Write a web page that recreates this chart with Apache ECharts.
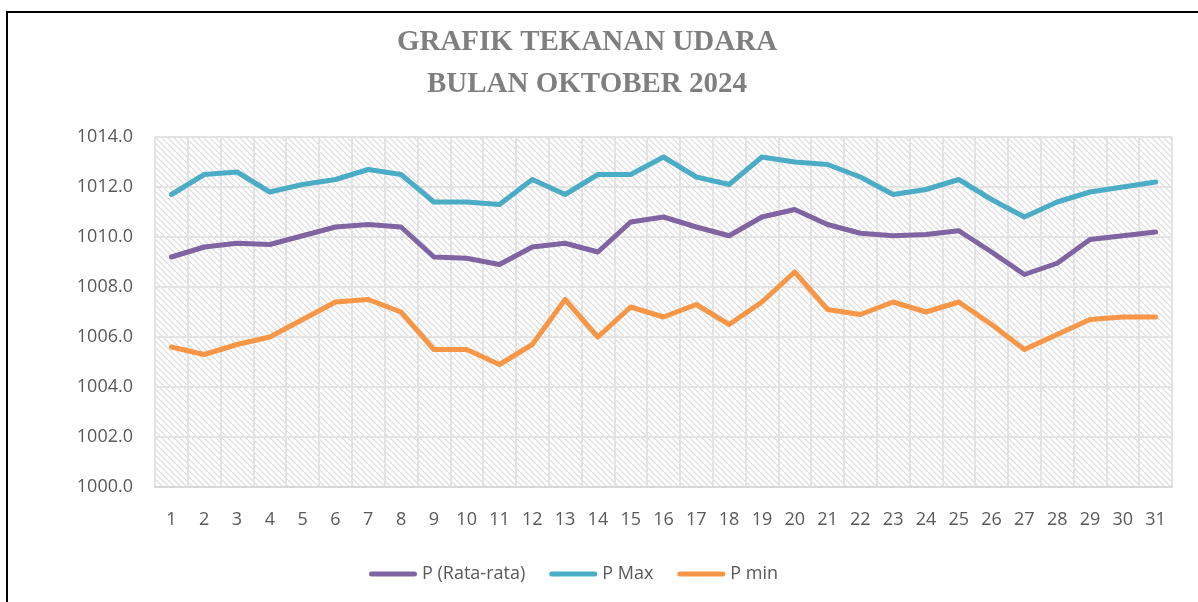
<!DOCTYPE html>
<html>
<head>
<meta charset="utf-8">
<script src="https://cdn.jsdelivr.net/npm/echarts@6/dist/echarts.min.js"></script>
<style>
  html, body { margin: 0; padding: 0; background: #fff; }
  #chart { width: 1198px; height: 602px; }
</style>
</head>
<body>
<div id="chart"></div>
<script>
// data
const days = Array.from({ length: 31 }, (_, i) => String(i + 1))
const pRata = [1009.2, 1009.6, 1009.75, 1009.7, 1010.05, 1010.4, 1010.5, 1010.4, 1009.2, 1009.15,
  1008.9, 1009.6, 1009.75, 1009.4, 1010.6, 1010.8, 1010.4, 1010.05, 1010.8, 1011.1,
  1010.5, 1010.15, 1010.05, 1010.1, 1010.25, 1009.4, 1008.5, 1008.95, 1009.9, 1010.05, 1010.2]
const pMax = [1011.7, 1012.5, 1012.6, 1011.8, 1012.1, 1012.3, 1012.7, 1012.5, 1011.4, 1011.4,
  1011.3, 1012.3, 1011.7, 1012.5, 1012.5, 1013.2, 1012.4, 1012.1, 1013.2, 1013.0,
  1012.9, 1012.4, 1011.7, 1011.9, 1012.3, 1011.5, 1010.8, 1011.4, 1011.8, 1012.0, 1012.2]
const pMin = [1005.6, 1005.3, 1005.7, 1006.0, 1006.7, 1007.4, 1007.5, 1007.0, 1005.5, 1005.5,
  1004.9, 1005.7, 1007.5, 1006.0, 1007.2, 1006.8, 1007.3, 1006.5, 1007.4, 1008.6,
  1007.1, 1006.9, 1007.4, 1007.0, 1007.4, 1006.5, 1005.5, 1006.1, 1006.7, 1006.8, 1006.8]

const seriesNames = ['P (Rata-rata)', 'P Max', 'P min']
const colors = ['#8064a2', '#4bacc6', '#f79646']

// hatched plot background
const hatch = document.createElement('canvas')
hatch.width = 6
hatch.height = 6
const hctx = hatch.getContext('2d')
hctx.fillStyle = '#ffffff'
hctx.fillRect(0, 0, 6, 6)
hctx.strokeStyle = '#dadada'
hctx.lineWidth = 1.2
hctx.beginPath()
hctx.moveTo(-1, -1); hctx.lineTo(7, 7)
hctx.moveTo(-4, 2); hctx.lineTo(4, 10)
hctx.moveTo(2, -4); hctx.lineTo(10, 4)
hctx.stroke()

const labelFont = { color: '#595959', fontFamily: 'Open Sans', fontSize: 18 }
// thick line with round ends for the legend
const legendLine = 'path://M2.5,0H45.5A2.5,2.5 0 0 1 45.5,5H2.5A2.5,2.5 0 0 1 2.5,0Z'

const chart = echarts.init(document.getElementById('chart'))
chart.setOption({
  backgroundColor: '#fff',
  animation: false,
  title: {
    text: 'GRAFIK TEKANAN UDARA\nBULAN OKTOBER 2024',
    left: 582,
    top: 17,
    textAlign: 'center',
    textStyle: {
      color: '#7f7f7f', fontFamily: 'Liberation Serif', fontWeight: 'bold',
      fontSize: 29, lineHeight: 42
    }
  },
  graphic: [{
    type: 'rect',
    shape: { x: 7, y: 12, width: 1400, height: 800 },
    style: { fill: null, stroke: '#000', lineWidth: 2 },
    silent: true
  }],
  legend: {
    data: seriesNames,
    bottom: 14,
    left: 364,
    icon: legendLine,
    itemWidth: 48,
    itemHeight: 5,
    itemGap: 24,
    textStyle: labelFont
  },
  grid: {
    left: 155, right: 26, top: 137, bottom: 115,
    show: true,
    borderWidth: 0,
    backgroundColor: { image: hatch, repeat: 'repeat' }
  },
  xAxis: {
    type: 'category',
    data: days,
    boundaryGap: true,
    axisLine: { lineStyle: { color: '#d9d9d9', width: 2 } },
    axisTick: { show: false },
    axisLabel: Object.assign({ margin: 24, interval: 0 }, labelFont),
    splitLine: { show: true, interval: 0, lineStyle: { color: '#e3e3e3', width: 2 } }
  },
  yAxis: {
    type: 'value',
    min: 1000,
    max: 1014,
    interval: 2,
    axisLine: { show: false },
    axisTick: { show: false },
    axisLabel: Object.assign({ margin: 22, formatter: v => v.toFixed(1) }, labelFont),
    splitLine: { lineStyle: { color: '#e3e3e3', width: 2 } }
  },
  series: [pRata, pMax, pMin].map((d, i) => ({
    name: seriesNames[i],
    type: 'line',
    data: d,
    symbol: 'none',
    color: colors[i],
    lineStyle: { width: 5, color: colors[i], cap: 'round', join: 'round' }
  }))
})
</script>
</body>
</html>
